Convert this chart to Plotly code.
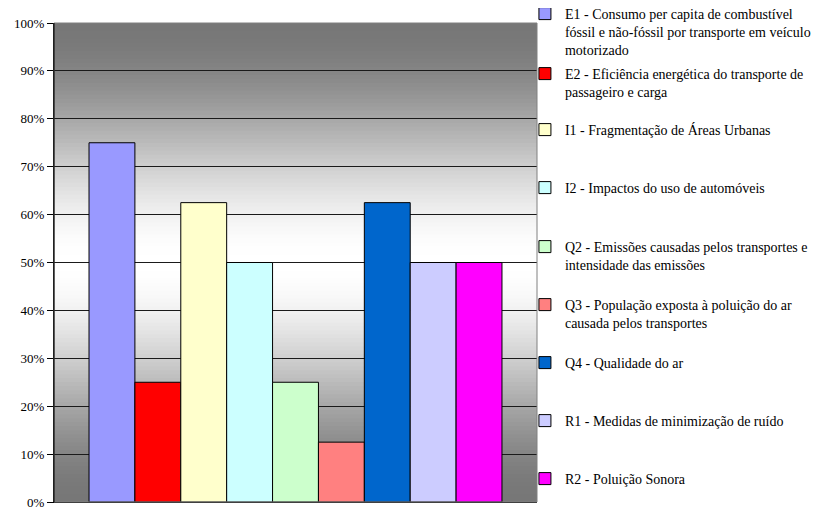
import plotly.graph_objects as go

names = [
    "E1 - Consumo per capita de combustível<br>fóssil e não-fóssil por transporte em veículo<br>motorizado",
    "E2 - Eficiência energética do transporte de<br>passageiro e carga",
    "I1 - Fragmentação de Áreas Urbanas",
    "I2 - Impactos do uso de automóveis",
    "Q2 - Emissões causadas pelos transportes e<br>intensidade das emissões",
    "Q3 - População exposta à poluição do ar<br>causada pelos transportes",
    "Q4 - Qualidade do ar",
    "R1 - Medidas de minimização de ruído",
    "R2 - Poluição Sonora",
]
values = [0.75, 0.25, 0.625, 0.50, 0.25, 0.125, 0.625, 0.50, 0.50]
colors = ["#9999FF", "#FF0000", "#FFFFCC", "#CCFFFF", "#CCFFCC",
          "#FF8080", "#0066CC", "#CCCCFF", "#FF00FF"]
category = [""]
tick_vals = [i / 10 for i in range(11)]

SERIF = '"Liberation Serif", "Times New Roman", Times, serif'
W, H = 825, 510
# page shows the figure offset by the 8px body margin
OFF = 8
ML, MR, MT, MB = 54 - OFF, 288 + OFF, 23 - OFF, 8 + OFF
plot_h = H - MT - MB
plot_bottom = H - MB

# page pixel row of each legend entry's first text line (layout only)
legend_rows = [13, 73, 129, 187, 246, 304, 362, 420, 478]

fig = go.Figure()
layout_legends = {}
for k, (n, v, c) in enumerate(zip(names, values, colors)):
    key = "legend" if k == 0 else f"legend{k + 1}"
    fig.add_trace(go.Bar(
        x=category, y=[v], name=n, legend=key,
        marker=dict(color=c, line=dict(color="#000000", width=1)),
    ))
    top_fig = legend_rows[k] - OFF - 15
    layout_legends[key] = dict(
        x=0.975, xanchor="left",
        y=(plot_bottom - top_fig) / plot_h, yanchor="top",
        valign="top", bgcolor="rgba(0,0,0,0)",
        font=dict(family=SERIF, size=14, color="#000000"),
    )

# background gradient (dark - light - dark)
shapes = []
N = 120
for i in range(N):
    y0 = i / N
    y1 = min((i + 1) / N + 0.006, 1.0)
    ym = (i + 0.5) / N
    d = min(abs(ym - 0.5) / 0.5, 1.0)
    f = 3 * d * d - 2 * d * d * d
    g = int(round(255 - (255 - 119) * f))
    shapes.append(dict(type="rect", xref="paper", yref="y", x0=0, x1=1,
                       y0=y0, y1=y1, fillcolor=f"rgb({g},{g},{g})",
                       line=dict(width=0), layer="below"))
shapes.append(dict(type="rect", xref="paper", yref="paper", x0=0, x1=1, y0=0, y1=1,
                   line=dict(color="#808080", width=1), layer="above"))
shapes.append(dict(type="line", xref="paper", yref="paper", x0=0, x1=0, y0=0, y1=1,
                   line=dict(color="#000000", width=1), layer="above"))

fig.update_layout(
    width=W, height=H,
    margin=dict(l=ML, r=MR, t=MT, b=MB, autoexpand=False),
    paper_bgcolor="white", plot_bgcolor="white",
    barmode="group", bargap=0.145, bargroupgap=0,
    font=dict(family=SERIF, size=12, color="#000000"),
    shapes=shapes,
    showlegend=True,
    xaxis=dict(showticklabels=False, showgrid=False, zeroline=False,
               showline=True, linecolor="#000000", ticks="", automargin=False),
    yaxis=dict(range=[0, 1], tickvals=tick_vals, tickformat=".0%",
               showgrid=True, gridcolor="#1a1a1a", gridwidth=1,
               zeroline=False, showline=True, linecolor="#000000",
               ticks="outside", ticklen=6, tickcolor="#000000",
               tickfont=dict(family=SERIF, size=13), automargin=False),
    **layout_legends,
)

fig.write_html("out.html")
